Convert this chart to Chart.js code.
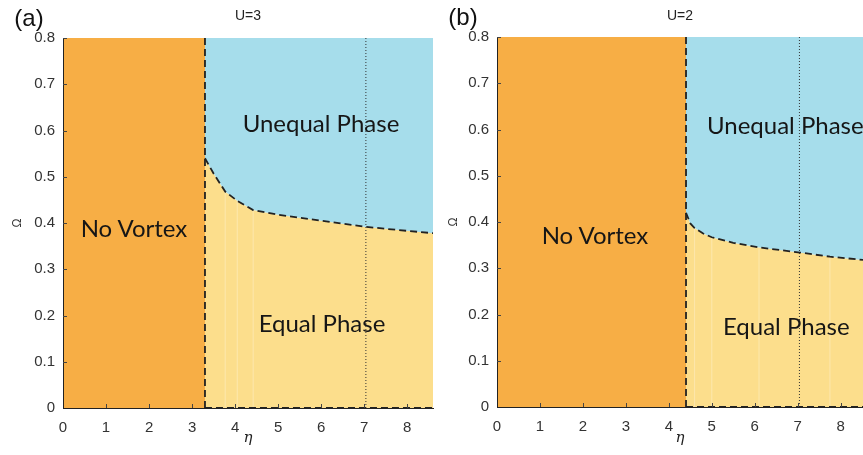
<!DOCTYPE html>
<html>
<head>
<meta charset="utf-8">
<script src="https://cdn.jsdelivr.net/npm/chart.js@4"></script>
<style>
  html, body { margin: 0; padding: 0; background: #fff; }
  #wrap { position: relative; width: 863px; height: 455px; overflow: hidden; font-family: "Liberation Sans", Arial, sans-serif; }
  canvas { position: absolute; top: 0; }
  #chartA { left: 0; }
  #chartB { left: 440px; }
  .lbl { position: absolute; white-space: nowrap; transform: translate(-50%, -50%); line-height: 1; }
  .tag { font-size: 24px; color: #111; }
  .ttl { font-size: 14px; color: #222; }
  .region { font-family: Lato, "Open Sans", sans-serif; font-size: 24px; color: #161616; }
  .left { transform: translate(0, -50%); }
</style>
</head>
<body>
<div id="wrap">
  <canvas id="chartA" width="440" height="455"></canvas>
  <canvas id="chartB" width="423" height="455"></canvas>

  <div class="lbl tag" style="left:29px;top:18px">(a)</div>
  <div class="lbl ttl" style="left:248px;top:15px">U=3</div>
  <div class="lbl region" style="left:134px;top:228px">No Vortex</div>
  <div class="lbl region" style="left:321px;top:123px">Unequal Phase</div>
  <div class="lbl region" style="left:322px;top:323px">Equal Phase</div>

  <div class="lbl tag" style="left:463px;top:17px">(b)</div>
  <div class="lbl ttl" style="left:680px;top:15px">U=2</div>
  <div class="lbl region" style="left:595px;top:235px">No Vortex</div>
  <div class="lbl region left" style="left:707px;top:125px">Unequal Phase</div>
  <div class="lbl region left" style="left:723px;top:326px">Equal Phase</div>
</div>
<script>
'use strict';

const COLORS = {
  noVortex: '#f7ae45',
  unequal: '#a6ddeb',
  equal: '#fcde8c',
  line: '#222222',
  faint: 'rgba(255, 244, 214, 0.45)',
};

// ---------- data: panel (a) U=3 ----------
const ETA_C_A = 3.3;            // no-vortex edge
const ETA_MAX_A = 8.6;
const BOUND_ETA_A = [3.3, 3.5, 3.77, 4.05, 4.42, 5.0, 6.0, 7.0, 8.0, 8.6];
const BOUND_OMEGA_A = [0.54, 0.507, 0.468, 0.448, 0.428, 0.418, 0.405, 0.392, 0.383, 0.378];
const FAINT_A = [3.77, 4.05, 4.42];

// ---------- data: panel (b) U=2 ----------
const ETA_C_B = 4.4;
const ETA_MAX_B = 8.52;
const BOUND_ETA_B = [4.4, 4.5, 4.6, 4.8, 5.0, 5.5, 6.1, 7.05, 7.75, 8.52];
const BOUND_OMEGA_B = [0.42, 0.397, 0.387, 0.375, 0.367, 0.355, 0.345, 0.334, 0.325, 0.318];
const FAINT_B = [4.6, 5.0, 6.1, 7.75];

const ETA_DOTTED = 7.04;
const OMEGA_MAX = 0.8;
const ETA_TICKS = [0, 1, 2, 3, 4, 5, 6, 7, 8];
const OMEGA_TICKS = [0, 0.1, 0.2, 0.3, 0.4, 0.5, 0.6, 0.7, 0.8];

function pts(xs, ys) { return xs.map((x, i) => ({ x, y: ys[i] })); }

function omegaAt(xs, ys, eta) {
  const i = xs.indexOf(eta);
  return ys[i];
}

// inward ticks, matlab style
const inwardTicks = {
  id: 'inwardTicks',
  afterDraw(chart) {
    const { ctx, chartArea: a } = chart;
    const sx = chart.scales.x, sy = chart.scales.y;
    ctx.save();
    ctx.strokeStyle = '#444';
    ctx.lineWidth = 1;
    ctx.beginPath();
    for (const t of sx.ticks) {
      const px = Math.round(sx.getPixelForValue(t.value)) + 0.5;
      if (t.value === 0) continue;
      ctx.moveTo(px, a.bottom); ctx.lineTo(px, a.bottom - 4);
    }
    for (const t of sy.ticks) {
      const py = Math.round(sy.getPixelForValue(t.value)) + 0.5;
      if (t.value === 0) continue;
      ctx.moveTo(a.left, py); ctx.lineTo(a.left + 4, py);
    }
    ctx.stroke();
    ctx.restore();
  },
};

function lineDs(data, extra) {
  return Object.assign({
    data, pointRadius: 0, borderWidth: 0, tension: 0, fill: false,
    borderColor: COLORS.line, backgroundColor: 'transparent',
  }, extra);
}

function makePanel(id, p) {
  const boundary = pts(p.etas, p.omegas);
  const datasets = [
    // regions
    lineDs([{ x: 0, y: OMEGA_MAX }, { x: p.etaC, y: OMEGA_MAX }], { fill: 'origin', backgroundColor: COLORS.noVortex, order: 10 }),
    lineDs(boundary, { fill: 'end', backgroundColor: COLORS.unequal, order: 10 }),
    lineDs(boundary, { fill: 'origin', backgroundColor: COLORS.equal, order: 10 }),
  ];
  for (const e of p.faint) {
    datasets.push(lineDs([{ x: e, y: 0 }, { x: e, y: omegaAt(p.etas, p.omegas, e) }],
      { borderColor: COLORS.faint, borderWidth: 1, order: 5 }));
  }
  datasets.push(
    lineDs([{ x: ETA_DOTTED, y: 0 }, { x: ETA_DOTTED, y: OMEGA_MAX }],
      { borderColor: '#333', borderWidth: 1, borderDash: [1, 2], order: 2 }),
    lineDs([{ x: p.etaC, y: 0 }, { x: p.etaC, y: OMEGA_MAX }],
      { borderWidth: 1.8, borderDash: [7, 4], order: 1, clip: 4 }),
    lineDs(boundary, { borderWidth: 1.8, borderDash: [7, 4], order: 1 }),
    lineDs([{ x: p.etaC, y: 0 }, { x: p.xmax, y: 0 }],
      { borderWidth: 1.8, borderDash: [7, 4], order: 1, clip: 4 }),
  );

  return new Chart(document.getElementById(id), {
    type: 'line',
    data: { datasets },
    plugins: [inwardTicks],
    options: {
      responsive: false,
      animation: false,
      events: [],
      layout: { padding: { top: p.top, right: p.right, left: 0, bottom: 0 } },
      plugins: { legend: { display: false }, tooltip: { enabled: false } },
      scales: {
        x: {
          type: 'linear', min: 0, max: p.xmax,
          grid: { display: false, drawTicks: false, tickLength: 0 },
          border: { display: true, color: '#222', width: 1, z: 1 },
          ticks: { stepSize: 1, color: '#333', padding: 11, font: { family: '"Liberation Sans", Arial', size: 15 } },
          afterBuildTicks: (s) => { s.ticks = ETA_TICKS.filter((v) => v <= p.xmax).map((v) => ({ value: v })); },
          afterFit: (s) => { s.height = p.bottomH; },
          title: { display: true, text: 'η', color: '#222', padding: { top: 0, bottom: 8 },
            font: { family: '"DejaVu Serif", "Liberation Serif", serif', style: 'italic', size: 15 } },
        },
        y: {
          type: 'linear', min: 0, max: OMEGA_MAX,
          grid: { display: false, drawTicks: false, tickLength: 0 },
          border: { display: true, color: '#222', width: 1, z: 1 },
          ticks: { color: '#333', padding: 8, font: { family: '"Liberation Sans", Arial', size: 15 },
            callback: (v) => (v === 0 ? '0' : v.toFixed(1)) },
          afterBuildTicks: (s) => { s.ticks = OMEGA_TICKS.map((v) => ({ value: v })); },
          afterFit: (s) => { s.width = p.leftW; },
          title: { display: true, text: 'Ω', color: '#333', padding: { top: p.omegaPad, bottom: 0 },
            font: { family: '"Liberation Sans", Arial', size: 12 } },
        },
      },
    },
  });
}

makePanel('chartA', {
  etaC: ETA_C_A, xmax: ETA_MAX_A, etas: BOUND_ETA_A, omegas: BOUND_OMEGA_A, faint: FAINT_A,
  top: 38, right: 7, leftW: 63, bottomH: 47, omegaPad: 10,
});
makePanel('chartB', {
  etaC: ETA_C_B, xmax: ETA_MAX_B, etas: BOUND_ETA_B, omegas: BOUND_OMEGA_B, faint: FAINT_B,
  top: 37, right: 0, leftW: 57, bottomH: 48, omegaPad: 6,
});
</script>
</body>
</html>
